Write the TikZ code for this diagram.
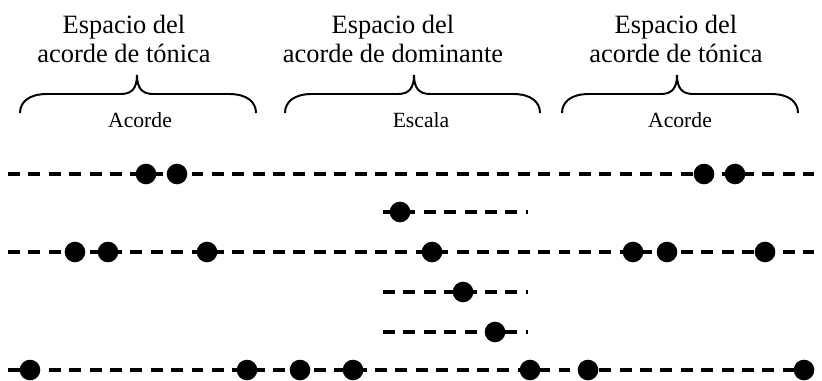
\documentclass[tikz,border=0pt]{standalone}
\usepackage{fontspec}
\setmainfont{Liberation Serif}
\usetikzlibrary{positioning}

%% brace: left end, tip, right end (x in px units)
\newcommand{\llave}[3]{%
  \draw[llavelinea] (#1,113) .. controls (#1,102) and (#1+9,94) .. (#1+27,94)
    -- (#2-16,94) .. controls (#2-5,94) and (#2,88) .. (#2,75)
    .. controls (#2,88) and (#2+5,94) .. (#2+16,94)
    -- (#3-27,94) .. controls (#3-9,94) and (#3,102) .. (#3,113);}

\begin{document}
\begin{tikzpicture}[
  x=0.025cm, y=-0.025cm,
  %% Line styles
  linea/.style={draw=black, line width=2.6pt, dash pattern=on 8.5pt off 6pt},
  llavelinea/.style={draw=black, line width=1.4pt},
  %% Node styles
  punto/.style={circle, fill=black, inner sep=0pt, minimum size=0.515cm},
  titulo/.style={font=\fontsize{18.8}{21.3}\selectfont, align=center, inner sep=0pt},
  rotulo/.style={font=\fontsize{15.4}{18}\selectfont, inner sep=0pt},
]
\useasboundingbox (0,0) rectangle (822,381);

%% =============================================================
%%  Titles, braces and labels
%% =============================================================
\node[titulo, anchor=base] (t1) at (124,63) {Espacio del\\acorde de tónica};
\node[titulo, anchor=base] (t2) at (393,63) {Espacio del\\acorde de dominante};
\node[titulo, anchor=base] (t3) at (676,63) {Espacio del\\acorde de tónica};

\llave{20}{137}{256}
\llave{285}{414}{540}
\llave{562}{677}{798}

\node[rotulo, anchor=base] (r1) at (140,128) {Acorde};
\node[rotulo, anchor=base] (r2) at (421,128) {Escala};
\node[rotulo, anchor=base] (r3) at (680,128) {Acorde};

%% =============================================================
%%  Lines
%% =============================================================
\coordinate (f1i) at (8,174);   \coordinate (f1d) at (814,174);
\coordinate (f2i) at (383,212); \coordinate (f2d) at (528,212);
\coordinate (f3i) at (8,252);   \coordinate (f3d) at (814,252);
\coordinate (f4i) at (383,292); \coordinate (f4d) at (528,292);
\coordinate (f5i) at (383,332); \coordinate (f5d) at (528,332);
\coordinate (f6i) at (8,370);   \coordinate (f6d) at (814,370);

\draw[linea] (f1i) -- (f1d);
\draw[linea] (f2i) -- (f2d);
\draw[linea] (f3i) -- (f3d);
\draw[linea] (f4i) -- (f4d);
\draw[linea] (f5i) -- (f5d);
\draw[linea] (f6i) -- (f6d);

%% =============================================================
%%  Notes
%% =============================================================
\foreach \x [count=\i] in {146,177,704,735}
  \node[punto] (a\i) at (\x,174) {};
\node[punto] (b1) at (400,212) {};
\foreach \x [count=\i] in {75,108,207,432,633,667,765}
  \node[punto] (c\i) at (\x,252) {};
\node[punto] (d1) at (463,292) {};
\node[punto] (e1) at (495,332) {};
\foreach \x [count=\i] in {30,247,300,353,530,588,804}
  \node[punto] (g\i) at (\x,370) {};

\end{tikzpicture}
\end{document}
